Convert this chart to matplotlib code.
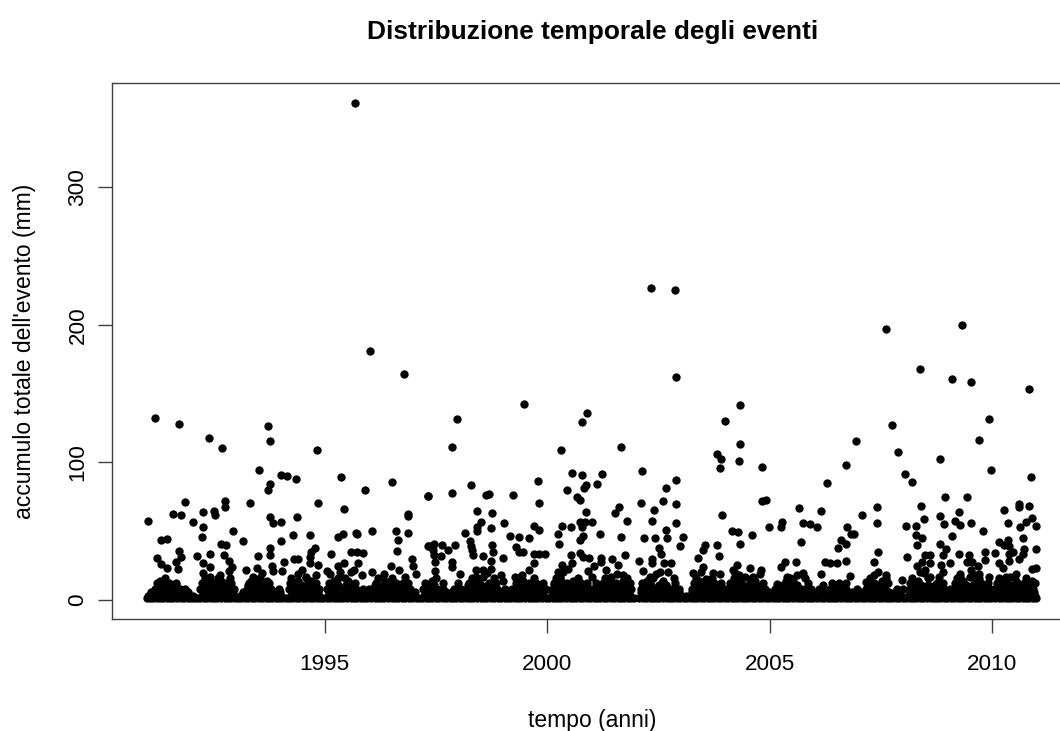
import matplotlib
matplotlib.use('Agg')
import matplotlib.pyplot as plt

plt.rcParams['font.family'] = ['Liberation Sans', 'DejaVu Sans']

# ========== valori ==========

# eventi isolati, sopra la fascia densa
event_year = [
    1995.68, 1996.02, 1996.78, 2002.33, 2002.87, 2007.61, 2009.32, 2008.37,
    1991.18, 1991.73, 1992.41, 1992.70, 1993.73, 1993.77, 1994.83, 1993.53, 1994.01, 1994.16,
    1994.36, 1995.36, 1995.90, 1996.52, 1997.31, 1993.76, 1993.73, 1992.76, 1992.76, 1991.87,
    1993.32, 1994.84, 1995.44, 1992.26, 1992.51, 1992.54, 1991.58, 1991.78, 1991.03, 1992.03,
    1992.26, 1993.76, 1993.84, 1994.01, 1994.37, 1996.87, 1996.88, 1992.93, 1992.24, 1991.33,
    1991.46, 1992.67, 1992.79, 1993.16, 1994.29, 1994.67, 1994.02, 1995.30, 1995.40, 1995.70,
    1995.72, 1996.06, 1996.61, 1996.65, 1996.86, 1997.33, 1996.62, 1993.76, 1994.79, 1994.70,
    1991.73, 1991.78, 1991.23, 1992.12, 1992.42, 1992.73, 1993.50, 1993.77, 1995.15, 1995.60,
    1995.72, 1995.87, 1994.67, 1996.95, 1994.09, 1994.32, 1994.40, 1994.67, 1994.85, 1991.66,
    1991.32, 1991.45, 1991.71, 1992.26, 1992.42, 1992.84, 1992.92, 1993.24, 1993.47, 1993.82,
    1993.84, 1994.04, 1995.75, 1995.44, 1995.30, 1995.05, 1995.65, 1996.07, 1996.48, 1996.66,
    1996.99, 1997.04,
    1999.48, 1997.97, 1997.85, 1997.85, 1997.31, 1998.28, 1998.62, 1998.68, 1999.23, 1999.79,
    1999.81, 2000.89, 2000.78, 2000.30, 2001.65, 2002.90, 2003.99, 2004.34, 2003.82, 2003.90,
    2003.89, 2004.33, 2004.30, 2000.56, 2000.78, 2001.24, 2001.11, 2000.88, 2000.83, 2000.45,
    2000.66, 2000.74, 2002.13, 2002.89, 2002.67, 2002.61, 2002.10, 2002.89, 2002.40, 2001.60,
    2001.53, 2003.93, 1998.42, 1998.76, 1998.50, 1999.03, 1998.41, 1998.42, 1998.74, 1998.15,
    1999.71, 1999.82, 2000.33, 2000.53, 2000.73, 2000.84, 2000.78, 2001.01, 2000.87, 2001.80,
    2002.36, 2002.90, 2002.67, 2001.19, 2000.23, 1999.17, 1999.37, 1999.59, 2000.80, 2000.73,
    2001.65, 2002.18, 2002.41, 2002.68, 2003.06, 2002.99, 2000.26, 1998.26, 1998.28, 1998.30,
    1998.34, 1998.76, 1998.79, 1998.56, 1998.74, 1999.00, 1998.74, 1999.29, 1999.37, 1999.45,
    1999.71, 1999.82, 1999.94, 1997.46, 1997.34, 1997.64, 1997.92, 1997.76, 1997.44, 1997.45,
    1997.62, 1997.48, 1997.86, 1997.87, 1997.47, 1998.04, 2000.53, 2000.74, 2000.80, 2000.93,
    2001.20, 2001.20, 2001.45, 2001.74, 2001.59, 2002.07, 2002.35, 2002.35, 2002.50, 2002.55,
    2002.62, 2002.77, 2002.15, 2003.81, 2003.54, 2003.49, 2003.38, 2003.85, 2004.34, 2004.14,
    2004.28, 2003.50, 2003.28, 2003.72, 2003.87, 1999.71, 1999.60, 2000.32, 2000.56, 2000.25,
    2001.04, 2000.92, 2001.33, 1998.97, 1999.00, 1998.39, 1998.56,
    2010.83, 2009.10, 2009.53, 2009.92, 2007.74, 2009.71, 2006.93, 2007.89, 2008.82, 2006.71,
    2004.83, 2009.98, 2008.03, 2010.87, 2008.20, 2006.28, 2008.93, 2009.43, 2004.83, 2004.91,
    2005.65, 2006.14, 2007.41, 2008.39, 2010.26, 2010.60, 2010.60, 2010.82, 2009.24, 2007.06,
    2008.83, 2008.46, 2010.88, 2010.75, 2005.27, 2005.25, 2004.98, 2005.75, 2005.91, 2006.07,
    2006.73, 2007.41, 2008.05, 2008.28, 2008.91, 2009.17, 2009.28, 2009.51, 2010.34, 2010.62,
    2010.98, 2009.80, 2004.60, 2006.89, 2006.82, 2006.61, 2006.71, 2005.70, 2006.53, 2008.28,
    2008.42, 2008.31, 2009.09, 2008.82, 2008.95, 2008.90, 2010.69, 2010.14, 2010.34, 2010.25,
    2010.37, 2010.72, 2010.68, 2010.59, 2010.98, 2010.46, 2010.38, 2010.37, 2010.07, 2009.84,
    2009.83, 2007.42, 2008.09, 2009.25, 2009.48, 2009.43, 2009.54, 2008.59, 2008.48, 2008.41,
    2008.59, 2008.30, 2008.48, 2008.37, 2008.85, 2009.04, 2008.89, 2010.14, 2010.23, 2009.68,
    2010.88, 2010.98, 2006.24, 2006.35, 2006.52, 2006.70, 2007.33, 2005.58, 2005.33, 2005.25,
    2004.27, 2004.18, 2004.21, 2004.55, 2004.81, 2004.77, 2006.14, 2006.79, 2005.75, 2005.16,
    2007.33, 2007.60, 2007.98, 2007.16, 2009.27, 2009.53, 2009.71, 2010.40, 2010.53, 2009.93,
    2010.90,
]
event_mm = [
    361.5, 181, 164.3, 226.9, 225.4, 197, 200, 168,
    132.5, 127.7, 118, 110.2, 126.7, 115.3, 109, 94.1, 91, 89.8,
    87.6, 89.5, 80, 85.9, 75.7, 84.2, 79.8, 71.5, 67.4, 71.1,
    70.3, 70.6, 66.2, 64, 64.7, 61.8, 62.3, 61.6, 57.5, 56.7,
    52.8, 60.1, 55.8, 56.7, 59.9, 62.3, 61.3, 49.9, 45.5, 43.8,
    44.3, 40.7, 40, 42.4, 47.2, 46.8, 43.1, 46, 47.7, 48.5,
    47.7, 49.7, 50, 43.8, 48.7, 39, 35.6, 37.3, 37.3, 34.9,
    35.6, 31.2, 30.5, 31.9, 33.4, 32.9, 31.7, 32.7, 33.6, 34.9,
    34.6, 34.1, 31.2, 29.8, 27.8, 29.3, 30, 26.8, 25.1, 27.6,
    25.9, 23.4, 22.7, 27.1, 23.9, 28.3, 23.9, 22, 23.4, 24.4,
    21, 20.8, 27.1, 26.6, 24.4, 21.2, 21.5, 20.5, 24.6, 22,
    24.6, 19,
    142.7, 131.3, 110.9, 77.6, 75.7, 83.7, 75.9, 76.7, 75.9, 86.1,
    70.3, 135.7, 129.1, 109, 111.4, 162.3, 130.1, 141.8, 106, 102.4,
    95.6, 113.3, 100.7, 92.2, 91, 91.2, 83.9, 83.2, 81.5, 79.6,
    74.5, 72.5, 93.4, 87.3, 81.3, 71.5, 70.3, 69.4, 65.2, 67.7,
    63, 61.6, 64.5, 63.3, 56.5, 56.2, 53, 50.2, 51.9, 48.5,
    53.8, 50.9, 53.8, 53.1, 56.7, 56.7, 53.1, 56.5, 63.5, 57,
    57.5, 56, 50.6, 48.2, 47.7, 46.5, 45.8, 45, 46.3, 43.8,
    45.6, 45, 44.8, 44.8, 46, 39, 40.9, 42.9, 39.2, 36,
    32.4, 39.7, 34.9, 32.2, 28.3, 30.2, 22.7, 38.5, 34.6, 34.9,
    33.2, 33.6, 33.6, 40.9, 39, 40.2, 40, 36, 36, 32.4,
    31.9, 27.6, 27.6, 23.9, 21, 19, 32.9, 34.1, 31.2, 30.5,
    30.7, 27.6, 29.5, 32.4, 25.6, 28, 29.5, 26.8, 37.3, 33.6,
    27, 27, 21, 40, 39.7, 36, 30.7, 32.2, 40.9, 50.2,
    49, 24, 19.5, 19.5, 19, 26.4, 22, 25.6, 26.4, 20.3,
    24.4, 21, 22, 17.8, 14, 21.5, 21.5,
    153.2, 160.8, 158.3, 131.8, 127.2, 116.3, 115.3, 107.8, 102.2, 97.8,
    96.3, 94.1, 91.2, 89, 85.4, 85.2, 75, 75, 71.8, 72.3,
    66.9, 64.7, 67.2, 67.9, 65, 69.6, 67.2, 67.9, 63.8, 61.6,
    60.6, 58.4, 59.4, 56.7, 56.7, 53.1, 53.1, 55.8, 55, 52.6,
    53.3, 55.8, 53.8, 53.8, 55, 57.2, 54.5, 56, 55.5, 52.6,
    54, 50.2, 47.2, 48.2, 47.5, 43.8, 40.9, 42.1, 37.5, 47.2,
    45, 40, 46.5, 40.7, 36.8, 32.7, 45, 41.7, 43.4, 39.7,
    39.2, 36.6, 33.2, 29.3, 36.6, 34.6, 33.2, 28.3, 34.1, 34.6,
    28.8, 34.9, 31, 33.6, 32.4, 27.6, 27.6, 32.4, 32.4, 27.6,
    26.8, 24.4, 21.5, 20.3, 25, 26.4, 20, 26.4, 23.2, 24.6,
    22.7, 23.2, 27.8, 26.8, 26.6, 28.5, 27.3, 27.6, 27.6, 23.9,
    25, 21.5, 19.5, 23.4, 21.5, 19, 18.6, 17.1, 19.5, 11.8,
    17.8, 17.8, 14.7, 13, 19, 21.5, 19, 16.6, 14, 16.6,
    14,
]

# punti sul bordo superiore della fascia densa
edge_year = [
    1992.27, 1992.42, 1992.65, 1993.39, 1994.40, 1994.58, 1994.81, 1995.34, 1995.83, 1996.32, 1996.80,
    1998.40, 1998.55, 1999.28, 2000.36, 2000.29, 2001.01, 2001.44, 2001.70, 2002.31, 2002.53, 2002.71,
    2003.57, 2004.44, 2004.62, 2005.38, 2005.60, 2008.59, 2008.81, 2009.27, 2009.49, 2010.31,
    1992.85, 1993.60, 1994.49, 1995.12, 1995.58, 1998.64, 1999.44, 2000.47, 2001.56, 2002.44, 2003.45,
    2004.30, 2005.72, 2007.43, 2008.46, 2009.62, 2010.52,
]
edge_mm = [
    19.5, 16.6, 17.8, 16.6, 19, 16.6, 17.8, 20, 17.8, 19, 16.6,
    16.6, 16.6, 16.6, 20.3, 16.6, 16.6, 16.6, 17.8, 16.6, 20.3, 20.3,
    15.4, 16.6, 16.6, 16.6, 17.8, 16.6, 16.6, 16.6, 16.6, 16.6,
    21, 19.5, 22, 18.5, 20.5, 19.5, 18, 22.5, 19, 18.5, 20,
    18, 19, 20.5, 19.5, 18, 19,
]

# fascia densa vicino allo zero: anni per ogni livello di accumulo
low_mm = [1.0, 3.0, 5.5, 8.0, 11.0, 12.5, 14.0, 15.5]
low_years = [
    [1991.00, 1991.07, 1991.14, 1991.22, 1991.30, 1991.37, 1991.46, 1991.53, 1991.60, 1991.69, 1991.76, 1991.84,
     1991.92, 1991.99, 1992.07, 1992.13, 1992.20, 1992.29, 1992.36, 1992.44, 1992.52, 1992.59, 1992.68, 1992.75,
     1992.83, 1992.90, 1992.98, 1993.05, 1993.12, 1993.21, 1993.28, 1993.36, 1993.43, 1993.52, 1993.59, 1993.67,
     1993.74, 1993.81, 1993.90, 1993.97, 1994.05, 1994.12, 1994.20, 1994.27, 1994.35, 1994.43, 1994.51, 1994.58,
     1994.66, 1994.73, 1994.82, 1994.89, 1994.97, 1995.04, 1995.11, 1995.20, 1995.27, 1995.35, 1995.42, 1995.50,
     1995.58, 1995.65, 1995.73, 1995.81, 1995.88, 1995.96, 1996.03, 1996.12, 1996.19, 1996.27, 1996.34, 1996.43,
     1996.50, 1996.58, 1996.65, 1996.74, 1996.81, 1996.89, 1996.97, 1997.04, 1997.12, 1997.19, 1997.27, 1997.35,
     1997.42, 1997.50, 1997.57, 1997.66, 1997.73, 1997.81, 1997.88, 1997.96, 1998.04, 1998.11, 1998.19, 1998.27,
     1998.34, 1998.42, 1998.50, 1998.57, 1998.65, 1998.73, 1998.80, 1998.89, 1998.96, 1999.04, 1999.11, 1999.19,
     1999.27, 1999.34, 1999.42, 1999.49, 1999.58, 1999.65, 1999.73, 1999.80, 1999.88, 1999.96, 2000.03, 2000.12,
     2000.19, 2000.27, 2000.34, 2000.42, 2000.50, 2000.58, 2000.65, 2000.73, 2000.80, 2000.89, 2000.96, 2001.04,
     2001.11, 2001.19, 2001.27, 2001.34, 2001.43, 2001.50, 2001.58, 2001.65, 2001.73, 2001.81, 2001.88, 2001.94,
     2002.07, 2002.14, 2002.22, 2002.30, 2002.37, 2002.45, 2002.52, 2002.61, 2002.68, 2002.76, 2002.83, 2002.91,
     2002.98, 2003.07, 2003.14, 2003.22, 2003.29, 2003.37, 2003.45, 2003.52, 2003.60, 2003.68, 2003.75, 2003.83,
     2003.90, 2003.99, 2004.06, 2004.14, 2004.21, 2004.29, 2004.37, 2004.44, 2004.52, 2004.60, 2004.67, 2004.76,
     2004.83, 2004.91, 2004.98, 2005.06, 2005.14, 2005.21, 2005.29, 2005.37, 2005.44, 2005.53, 2005.60, 2005.68,
     2005.75, 2005.83, 2005.91, 2005.98, 2006.06, 2006.14, 2006.21, 2006.30, 2006.37, 2006.45, 2006.52, 2006.60,
     2006.68, 2006.75, 2006.83, 2006.91, 2006.98, 2007.06, 2007.13, 2007.22, 2007.29, 2007.37, 2007.45, 2007.52,
     2007.60, 2007.67, 2007.75, 2007.84, 2007.91, 2007.99, 2008.06, 2008.14, 2008.21, 2008.29, 2008.37, 2008.44,
     2008.52, 2008.61, 2008.68, 2008.76, 2008.83, 2008.91, 2008.98, 2009.07, 2009.14, 2009.22, 2009.29, 2009.37,
     2009.45, 2009.52, 2009.60, 2009.68, 2009.75, 2009.83, 2009.91, 2009.98, 2010.06, 2010.14, 2010.21, 2010.30,
     2010.37, 2010.45, 2010.52, 2010.60, 2010.68, 2010.75, 2010.83, 2010.91, 2010.98],
    [1991.04, 1991.18, 1991.27, 1991.41, 1991.50, 1991.64, 1991.73, 1991.87, 1991.95, 1992.03, 1992.24, 1992.33,
     1992.41, 1992.55, 1992.64, 1992.72, 1992.87, 1992.94, 1993.10, 1993.24, 1993.33, 1993.47, 1993.56, 1993.70,
     1993.78, 1993.93, 1994.01, 1994.24, 1994.31, 1994.47, 1994.55, 1994.69, 1994.78, 1994.86, 1995.08, 1995.23,
     1995.31, 1995.46, 1995.54, 1995.69, 1995.77, 1995.92, 1996.07, 1996.23, 1996.30, 1996.46, 1996.54, 1996.70,
     1996.78, 1996.93, 1997.01, 1997.23, 1997.31, 1997.46, 1997.54, 1997.69, 1997.84, 1997.92, 1998.08, 1998.23,
     1998.30, 1998.46, 1998.54, 1998.69, 1998.77, 1998.92, 1999.00, 1999.15, 1999.23, 1999.38, 1999.46, 1999.61,
     1999.69, 1999.84, 1999.92, 2000.15, 2000.23, 2000.38, 2000.46, 2000.61, 2000.69, 2000.85, 2000.92, 2001.08,
     2001.15, 2001.31, 2001.38, 2001.54, 2001.62, 2001.77, 2001.85, 2002.10, 2002.18, 2002.34, 2002.41, 2002.57,
     2002.64, 2002.80, 2002.87, 2003.03, 2003.11, 2003.26, 2003.33, 2003.49, 2003.56, 2003.72, 2003.79, 2003.95,
     2004.03, 2004.18, 2004.25, 2004.41, 2004.48, 2004.64, 2004.71, 2004.87, 2004.95, 2005.10, 2005.18, 2005.33,
     2005.41, 2005.57, 2005.64, 2005.79, 2005.87, 2006.03, 2006.10, 2006.26, 2006.33, 2006.49, 2006.56, 2006.72,
     2006.79, 2006.95, 2007.03, 2007.18, 2007.26, 2007.41, 2007.49, 2007.64, 2007.72, 2007.88, 2007.95, 2008.10,
     2008.18, 2008.33, 2008.41, 2008.56, 2008.64, 2008.80, 2008.87, 2009.03, 2009.11, 2009.26, 2009.33, 2009.49,
     2009.56, 2009.72, 2009.79, 2009.95, 2010.02, 2010.18, 2010.26, 2010.41, 2010.49, 2010.64, 2010.72, 2010.87, 2010.96],
    [1991.09, 1991.21, 1991.34, 1991.44, 1991.57, 1991.67, 1991.81, 1991.93, 1992.26, 1992.38, 1992.47, 1992.60,
     1992.70, 1992.81, 1992.93, 1993.17, 1993.30, 1993.41, 1993.52, 1993.64, 1993.76, 1993.88, 1994.00, 1994.27,
     1994.38, 1994.50, 1994.62, 1994.74, 1994.85, 1995.10, 1995.22, 1995.34, 1995.47, 1995.58, 1995.70, 1995.83,
     1996.01, 1996.16, 1996.28, 1996.40, 1996.52, 1996.64, 1996.76, 1996.90, 1997.02, 1997.26, 1997.38, 1997.50,
     1997.61, 1997.72, 1997.86, 1997.97, 1998.12, 1998.25, 1998.37, 1998.49, 1998.61, 1998.72, 1998.85, 1998.97,
     1999.14, 1999.28, 1999.41, 1999.53, 1999.65, 1999.76, 1999.89, 2000.10, 2000.21, 2000.35, 2000.47, 2000.59,
     2000.71, 2000.83, 2000.95, 2001.09, 2001.22, 2001.33, 2001.47, 2001.59, 2001.71, 2001.83, 2002.11, 2002.24,
     2002.36, 2002.48, 2002.60, 2002.72, 2002.84, 2002.96, 2003.26, 2003.38, 2003.50, 2003.62, 2003.74, 2003.86,
     2003.98, 2004.11, 2004.23, 2004.35, 2004.47, 2004.59, 2004.71, 2004.85, 2004.97, 2005.09, 2005.21, 2005.35,
     2005.47, 2005.59, 2005.71, 2005.83, 2005.95, 2006.19, 2006.31, 2006.43, 2006.55, 2006.67, 2006.85, 2007.03,
     2007.19, 2007.31, 2007.43, 2007.55, 2007.67, 2007.81, 2007.93, 2008.15, 2008.27, 2008.39, 2008.51, 2008.63,
     2008.75, 2008.87, 2008.99, 2009.11, 2009.23, 2009.35, 2009.47, 2009.59, 2009.71, 2009.85, 2009.97, 2010.09,
     2010.21, 2010.33, 2010.45, 2010.57, 2010.69, 2010.81, 2010.94],
    [1991.18, 1991.30, 1991.41, 1991.52, 1991.63, 1991.75, 1991.86, 1992.20, 1992.31, 1992.42, 1992.50, 1992.61,
     1992.72, 1992.83, 1992.95, 1993.25, 1993.36, 1993.47, 1993.58, 1993.69, 1993.80, 1993.98, 1994.20, 1994.30,
     1994.41, 1994.52, 1994.63, 1994.74, 1994.86, 1995.05, 1995.16, 1995.27, 1995.38, 1995.49, 1995.60, 1995.71,
     1995.85, 1996.00, 1996.14, 1996.25, 1996.36, 1996.47, 1996.58, 1996.69, 1996.80, 1996.92, 1997.20, 1997.31,
     1997.42, 1997.53, 1997.66, 1997.90, 1998.05, 1998.20, 1998.31, 1998.42, 1998.53, 1998.64, 1998.75, 1998.86,
     1999.05, 1999.20, 1999.30, 1999.41, 1999.52, 1999.63, 1999.74, 1999.85, 1999.96, 2000.12, 2000.23, 2000.34,
     2000.45, 2000.56, 2000.67, 2000.78, 2000.89, 2001.00, 2001.11, 2001.22, 2001.33, 2001.44, 2001.55, 2001.66,
     2001.77, 2001.88, 2002.10, 2002.21, 2002.32, 2002.43, 2002.54, 2002.65, 2002.76, 2002.87, 2002.97, 2003.25,
     2003.36, 2003.47, 2003.58, 2003.69, 2003.80, 2003.91, 2004.02, 2004.13, 2004.24, 2004.35, 2004.46, 2004.57,
     2004.68, 2004.79, 2004.90, 2005.12, 2005.25, 2005.36, 2005.47, 2005.58, 2005.69, 2005.80, 2005.92, 2006.10,
     2006.36, 2006.48, 2006.60, 2006.72, 2006.95, 2007.15, 2007.26, 2007.37, 2007.48, 2007.59, 2007.85, 2008.00,
     2008.15, 2008.26, 2008.37, 2008.48, 2008.59, 2008.70, 2008.81, 2008.92, 2009.05, 2009.16, 2009.27, 2009.38,
     2009.49, 2009.60, 2009.71, 2009.82, 2009.93, 2010.04, 2010.15, 2010.26, 2010.37, 2010.48, 2010.59, 2010.70,
     2010.81, 2010.92],
    [1991.25, 1991.38, 1991.52, 1991.66, 1992.34, 1992.48, 1992.62, 1992.76, 1993.28, 1993.42, 1993.56, 1994.33,
     1994.46, 1994.60, 1994.74, 1995.16, 1995.30, 1995.48, 1995.62, 1996.12, 1996.30, 1996.84, 1997.32, 1997.46,
     1998.22, 1998.38, 1998.52, 1998.66, 1999.40, 1999.54, 1999.68, 2000.16, 2000.34, 2000.50, 2000.64, 2001.34,
     2001.48, 2001.62, 2001.76, 2002.18, 2002.34, 2002.52, 2002.66, 2003.36, 2003.50, 2003.64, 2004.22, 2004.40,
     2004.55, 2004.70, 2005.30, 2005.44, 2005.60, 2006.20, 2007.40, 2007.55, 2008.24, 2008.40, 2008.56, 2008.72,
     2009.24, 2009.40, 2009.56, 2010.22, 2010.40, 2010.84],
    [1991.22, 1991.36, 1991.50, 1991.65, 1992.25, 1992.50, 1992.78, 1992.90, 1993.30, 1993.45, 1993.75, 1994.22,
     1994.35, 1994.65, 1994.80, 1995.10, 1995.25, 1995.55, 1995.68, 1996.15, 1996.45, 1996.60, 1996.75, 1996.88,
     1997.25, 1997.38, 1997.65, 1998.00, 1998.25, 1998.70, 1998.85, 1999.30, 1999.60, 1999.75, 1999.90, 2000.15,
     2000.45, 2000.75, 2000.90, 2001.10, 2001.25, 2001.55, 2001.85, 2002.12, 2002.27, 2002.57, 2002.87, 2003.30,
     2003.75, 2003.90, 2004.10, 2004.55, 2004.85, 2005.40, 2005.85, 2006.40, 2006.55, 2006.70, 2007.20, 2007.35,
     2007.65, 2008.15, 2008.30, 2008.75, 2008.90, 2009.15, 2009.60, 2009.75, 2009.90, 2010.10, 2010.55, 2010.70,
     2010.85, 2010.95],
    [1991.30, 1991.42, 1992.36, 1992.68, 1993.34, 1993.70, 1994.40, 1994.70, 1995.20, 1995.52, 1996.36, 1997.40,
     1998.44, 1999.46, 2000.30, 2000.58, 2001.40, 2001.70, 2002.24, 2002.60, 2003.40, 2003.58, 2004.34, 2004.66,
     2005.36, 2005.52, 2007.52, 2008.34, 2009.34, 2010.30],
    [1991.40, 1992.30, 1992.60, 1992.88, 1993.55, 1994.25, 1994.58, 1995.30, 1995.45, 1996.20, 1996.50, 1997.50,
     1998.30, 1998.80, 1999.35, 1999.70, 2000.20, 2000.70, 2001.30, 2001.80, 2002.38, 2002.85, 2003.35, 2003.70,
     2004.20, 2004.60, 2005.45, 2005.80, 2007.25, 2007.60, 2008.20, 2008.55, 2009.20, 2009.70, 2010.15, 2010.75],
]

# ========== assi ==========

x_ticks = [1995, 2000, 2005, 2010]
y_ticks = [0, 100, 200, 300]

FIG_W, FIG_H = 1060, 731
AXIS_GREY = '#404040'

fig = plt.figure(figsize=(FIG_W / 100, FIG_H / 100), dpi=100)
# il riquadro esce a destra dall'immagine, come nell'originale
ax = fig.add_axes([112 / FIG_W, (FIG_H - 619) / FIG_H, 960.5 / FIG_W, 536 / FIG_H])

ax.scatter(event_year, event_mm, s=36, c='black', linewidths=0, zorder=3)
ax.scatter(edge_year, edge_mm, s=36, c='black', linewidths=0, zorder=3)
for mm, years in zip(low_mm, low_years):
    ax.scatter(years, [mm] * len(years), s=36, c='black', linewidths=0, zorder=3)

ax.set_xlim(1990.22, 2011.8)
ax.set_ylim(-14.0, 376.0)
ax.set_xticks(x_ticks)
ax.set_yticks(y_ticks)
ax.tick_params(axis='both', length=10, width=1.0, color=AXIS_GREY, labelsize=16.2)
ax.tick_params(axis='x', pad=15)
ax.tick_params(axis='y', pad=7)
for label in ax.get_yticklabels():
    label.set_rotation(90)
    label.set_va('center')
for spine in ax.spines.values():
    spine.set_color(AXIS_GREY)
    spine.set_linewidth(1.0)

ax.set_xlabel('tempo (anni)', fontsize=16.5, labelpad=25)
ax.set_ylabel("accumulo totale dell'evento (mm)", fontsize=16.5, labelpad=22.5)
ax.set_title('Distribuzione temporale degli eventi', fontsize=18.9, fontweight='bold', pad=32)

fig.savefig('out.png', dpi=100)
